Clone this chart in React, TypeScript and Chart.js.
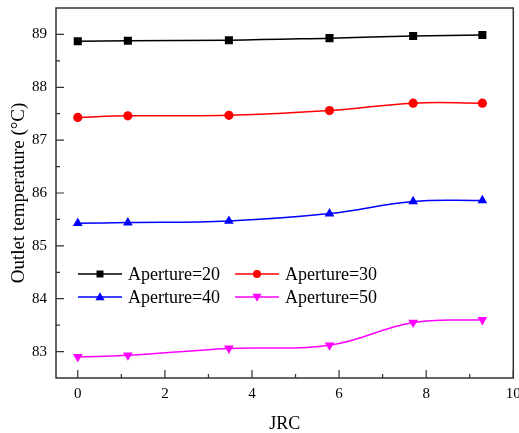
import React, { useEffect, useRef } from "react";
import { Chart, registerables } from "chart.js";

Chart.register(...registerables);

const jrc = [0, 1.15, 3.47, 5.78, 7.7, 9.29];
const aperture20 = [88.87, 88.88, 88.89, 88.93, 88.97, 88.99];
const aperture30 = [87.43, 87.46, 87.47, 87.56, 87.7, 87.7];
const aperture40 = [85.43, 85.44, 85.47, 85.61, 85.84, 85.86];
const aperture50 = [82.9, 82.93, 83.06, 83.12, 83.55, 83.6];
const seriesLabels = ["Aperture=20", "Aperture=30", "Aperture=40", "Aperture=50"];
const xTicks = [0, 2, 4, 6, 8, 10];
const yTicks = [83, 84, 85, 86, 87, 88, 89];
const xMinor = [1, 3, 5, 7, 9];
const yMinor = [83.5, 84.5, 85.5, 86.5, 87.5, 88.5];

const SERIF = "'Liberation Serif', 'Times New Roman', serif";

function drawMarker(ctx: CanvasRenderingContext2D, style: string, x: number, y: number, r: number, color: string) {
  ctx.save();
  ctx.fillStyle = color;
  ctx.beginPath();
  if (style === "rect") {
    ctx.rect(x - r, y - r, 2 * r, 2 * r);
  } else if (style === "circle") {
    ctx.arc(x, y, r, 0, Math.PI * 2);
  } else if (style === "triUp") {
    ctx.moveTo(x, y - r * 1.2);
    ctx.lineTo(x + r * 1.15, y + r * 0.8);
    ctx.lineTo(x - r * 1.15, y + r * 0.8);
    ctx.closePath();
  } else {
    ctx.moveTo(x, y + r * 1.2);
    ctx.lineTo(x + r * 1.15, y - r * 0.8);
    ctx.lineTo(x - r * 1.15, y - r * 0.8);
    ctx.closePath();
  }
  ctx.fill();
  ctx.restore();
}

const framePlugin = {
  id: "framePlugin",
  afterDraw(chart: any) {
    const { ctx, chartArea } = chart;
    const xs = chart.scales.x;
    const ys = chart.scales.y;
    const { left, right, top, bottom } = chartArea;
    ctx.save();
    ctx.strokeStyle = "#333333";
    ctx.lineWidth = 1.5;
    ctx.strokeRect(left, top, right - left, bottom - top);
    ctx.lineWidth = 1.2;
    ctx.beginPath();
    xTicks.forEach((v) => {
      const px = xs.getPixelForValue(v);
      ctx.moveTo(px, bottom);
      ctx.lineTo(px, bottom - 8);
    });
    xMinor.forEach((v) => {
      const px = xs.getPixelForValue(v);
      ctx.moveTo(px, bottom);
      ctx.lineTo(px, bottom - 4);
    });
    yTicks.forEach((v) => {
      const py = ys.getPixelForValue(v);
      ctx.moveTo(left, py);
      ctx.lineTo(left + 8, py);
    });
    yMinor.forEach((v) => {
      const py = ys.getPixelForValue(v);
      ctx.moveTo(left, py);
      ctx.lineTo(left + 4, py);
    });
    ctx.stroke();

    // legend
    const items = [
      { label: seriesLabels[0], color: "#000000", style: "rect", col: 0, row: 0 },
      { label: seriesLabels[1], color: "#ff0000", style: "circle", col: 1, row: 0 },
      { label: seriesLabels[2], color: "#0000ff", style: "triUp", col: 0, row: 1 },
      { label: seriesLabels[3], color: "#ff00ff", style: "triDown", col: 1, row: 1 },
    ];
    ctx.font = "18px " + SERIF;
    ctx.textBaseline = "middle";
    ctx.textAlign = "left";
    items.forEach((it) => {
      const x0 = left + (it.col === 0 ? 22 : 179);
      const y0 = top + (it.row === 0 ? 266 : 289);
      ctx.strokeStyle = it.color;
      ctx.lineWidth = 1.5;
      ctx.beginPath();
      ctx.moveTo(x0, y0);
      ctx.lineTo(x0 + 44, y0);
      ctx.stroke();
      drawMarker(ctx, it.style, x0 + 22, y0, it.style === "rect" ? 3.5 : 4, it.color);
      ctx.fillStyle = "#000000";
      ctx.fillText(it.label, x0 + 50, y0 + 1);
    });
    ctx.restore();
  },
};

export default function App() {
  const ref = useRef<HTMLCanvasElement | null>(null);
  useEffect(() => {
    document.body.style.margin = "0";
    const mk = (label: string, data: number[], color: string, style: string, rot: number, r: number) => ({
      label,
      data: jrc.map((x, i) => ({ x, y: data[i] })),
      borderColor: color,
      backgroundColor: color,
      borderWidth: 1.5,
      pointStyle: style,
      pointRotation: rot,
      pointRadius: r,
      pointBorderWidth: 0,
      tension: 0.4,
    });
    const chart = new Chart(ref.current!, {
      type: "line",
      data: {
        datasets: [
          mk(seriesLabels[0], aperture20, "#000000", "rect", 0, 5.7),
          mk(seriesLabels[1], aperture30, "#ff0000", "circle", 0, 4.6),
          mk(seriesLabels[2], aperture40, "#0000ff", "triangle", 0, 5.6),
          mk(seriesLabels[3], aperture50, "#ff00ff", "triangle", 180, 5.6),
        ],
      },
      options: {
        animation: false,
        responsive: false,
        maintainAspectRatio: false,
        layout: { padding: { top: 8, right: 5, left: 0, bottom: 0 } },
        plugins: { legend: { display: false }, tooltip: { enabled: false } },
        scales: {
          x: {
            type: "linear",
            min: -0.5,
            max: 10,
            grid: { display: false, drawTicks: false },
            border: { display: false },
            afterBuildTicks: (s: any) => {
              s.ticks = xTicks.map((v) => ({ value: v }));
            },
            afterFit: (s: any) => {
              s.height = 55;
              s.paddingLeft = 0;
              s.paddingRight = 0;
            },
            ticks: {
              padding: 7,
              color: "#000",
              font: { family: SERIF, size: 15 },
              maxRotation: 0,
              autoSkip: false,
            },
            title: {
              display: true,
              text: "JRC",
              color: "#000",
              font: { family: SERIF, size: 18, lineHeight: 1 },
              padding: { top: 0, bottom: 0 },
            },
          },
          y: {
            type: "linear",
            min: 82.5,
            max: 89.5,
            grid: { display: false, drawTicks: false },
            border: { display: false },
            afterBuildTicks: (s: any) => {
              s.ticks = yTicks.map((v) => ({ value: v }));
            },
            afterFit: (s: any) => {
              s.width = 56;
              s.paddingTop = 0;
              s.paddingBottom = 0;
            },
            ticks: {
              padding: 9,
              color: "#000",
              font: { family: SERIF, size: 15 },
              autoSkip: false,
            },
            title: {
              display: true,
              text: "Outlet temperature (°C)",
              color: "#000",
              font: { family: SERIF, size: 19, lineHeight: 1 },
              padding: { top: 10, bottom: 0 },
            },
          },
        },
      },
      plugins: [framePlugin],
    } as any);
    return () => chart.destroy();
  }, []);
  return (
    <div style={{ position: "fixed", left: 0, top: 0, width: 519, height: 433 }}>
      <canvas ref={ref} width={519} height={433} style={{ width: 519, height: 433 }} />
    </div>
  );
}
